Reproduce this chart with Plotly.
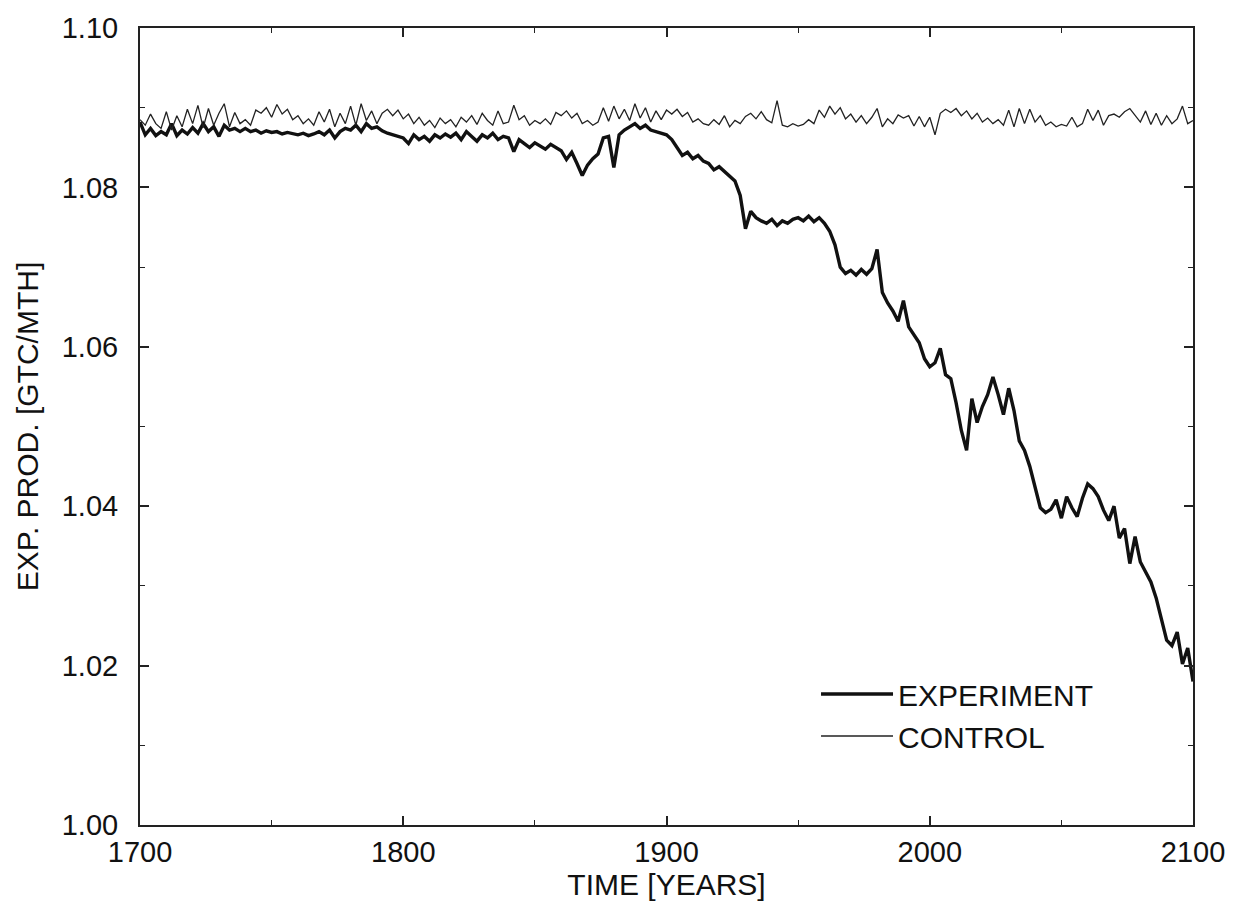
import plotly.graph_objects as go

years = list(range(1700, 2101, 2))

control = [
    1.0885, 1.0878, 1.0892, 1.0880, 1.0874, 1.0895, 1.0872, 1.0890, 1.0876, 1.0898,
    1.0880, 1.0903, 1.0875, 1.0899, 1.0878, 1.0893, 1.0905, 1.0876, 1.0894, 1.0880,
    1.0885, 1.0878, 1.0897, 1.0893, 1.0900, 1.0888, 1.0904, 1.0892, 1.0898, 1.0885,
    1.0890, 1.0880, 1.0886, 1.0878, 1.0895, 1.0882, 1.0898, 1.0876, 1.0893, 1.0880,
    1.0902, 1.0878, 1.0905, 1.0884, 1.0896, 1.0880, 1.0893, 1.0898, 1.0890, 1.0897,
    1.0886, 1.0892, 1.0880, 1.0888, 1.0878, 1.0884, 1.0875, 1.0887, 1.0880, 1.0885,
    1.0876, 1.0888, 1.0882, 1.0890, 1.0879, 1.0893, 1.0884, 1.0878, 1.0896, 1.0880,
    1.0882, 1.0903, 1.0885, 1.0890, 1.0878, 1.0884, 1.0880, 1.0886, 1.0879, 1.0894,
    1.0890, 1.0896, 1.0887, 1.0893, 1.0880, 1.0884, 1.0878, 1.0882, 1.0900, 1.0883,
    1.0902, 1.0886, 1.0898, 1.0884, 1.0905, 1.0887, 1.0900, 1.0882, 1.0896, 1.0885,
    1.0897, 1.0892, 1.0898, 1.0889, 1.0894, 1.0882, 1.0886, 1.0880, 1.0878, 1.0885,
    1.0879, 1.0890, 1.0876, 1.0884, 1.0880, 1.0889, 1.0893, 1.0886, 1.0895, 1.0885,
    1.0881, 1.0909, 1.0878, 1.0876, 1.0880, 1.0877, 1.0879, 1.0885, 1.0880, 1.0897,
    1.0888, 1.0902, 1.0892, 1.0900, 1.0886, 1.0892, 1.0882, 1.0890, 1.0880, 1.0888,
    1.0899, 1.0876, 1.0886, 1.0880, 1.0891, 1.0887, 1.0890, 1.0877, 1.0889, 1.0876,
    1.0888, 1.0866, 1.0893, 1.0898, 1.0894, 1.0899, 1.0890, 1.0896, 1.0886, 1.0893,
    1.0882, 1.0887, 1.0880, 1.0885, 1.0878, 1.0897, 1.0876, 1.0899, 1.0880, 1.0898,
    1.0882, 1.0890, 1.0878, 1.0882, 1.0876, 1.0879, 1.0877, 1.0888, 1.0876, 1.0880,
    1.0898, 1.0884, 1.0897, 1.0878, 1.0890, 1.0892, 1.0888, 1.0895, 1.0899, 1.0890,
    1.0882, 1.0896, 1.0879, 1.0893, 1.0878, 1.0890, 1.0880, 1.0886, 1.0902, 1.0880,
    1.0884,
]

experiment = [
    1.0882, 1.0866, 1.0874, 1.0865, 1.0870, 1.0866, 1.0880, 1.0865, 1.0872, 1.0867,
    1.0875, 1.0868, 1.0880, 1.0870, 1.0876, 1.0864, 1.0878, 1.0872, 1.0874, 1.0870,
    1.0874, 1.0870, 1.0872, 1.0868, 1.0871, 1.0869, 1.0870, 1.0867, 1.0869, 1.0868,
    1.0866, 1.0868, 1.0865, 1.0867, 1.0870, 1.0866, 1.0872, 1.0862, 1.0870, 1.0874,
    1.0872, 1.0878, 1.0870, 1.0880, 1.0874, 1.0876, 1.0871, 1.0868, 1.0866, 1.0863,
    1.0862, 1.0855, 1.0866, 1.0860, 1.0864, 1.0858, 1.0866, 1.0862, 1.0867, 1.0863,
    1.0868, 1.0860, 1.0870, 1.0864, 1.0858, 1.0866, 1.0862, 1.0868, 1.0860, 1.0864,
    1.0862, 1.0845, 1.0860, 1.0855, 1.0850, 1.0856, 1.0852, 1.0848, 1.0854, 1.0850,
    1.0846, 1.0835, 1.0844, 1.0830, 1.0815, 1.0828, 1.0836, 1.0842, 1.0862, 1.0864,
    1.0825, 1.0866, 1.0872, 1.0876, 1.0880, 1.0874, 1.0878, 1.0872, 1.0870, 1.0867,
    1.0866, 1.0860, 1.0850, 1.0840, 1.0844, 1.0836, 1.0840, 1.0833, 1.0830, 1.0822,
    1.0826, 1.0820, 1.0815, 1.0808, 1.0790, 1.0748, 1.0770, 1.0762, 1.0758, 1.0755,
    1.0760, 1.0752, 1.0758, 1.0755, 1.0760, 1.0762, 1.0758, 1.0764, 1.0757, 1.0762,
    1.0755, 1.0745, 1.0728, 1.0700, 1.0692, 1.0696, 1.0690, 1.0697, 1.0691, 1.0698,
    1.0722, 1.0668, 1.0655, 1.0645, 1.0632, 1.0658, 1.0625, 1.0615, 1.0605, 1.0585,
    1.0575, 1.0580, 1.0598, 1.0565, 1.0560, 1.0530, 1.0495, 1.0470, 1.0535, 1.0505,
    1.0525, 1.0540, 1.0562, 1.0540, 1.0515, 1.0548, 1.0520, 1.0482, 1.0470, 1.0450,
    1.0425, 1.0398, 1.0392, 1.0396, 1.0408, 1.0385, 1.0412, 1.0398, 1.0387, 1.0410,
    1.0428, 1.0422, 1.0412, 1.0395, 1.0382, 1.0400, 1.0360, 1.0372, 1.0328, 1.0362,
    1.0330, 1.0318, 1.0305, 1.0285, 1.0258, 1.0232, 1.0225, 1.0242, 1.0202, 1.0222,
    1.0180,
]

x_ticks = [1700, 1800, 1900, 2000, 2100]
y_ticks = [1.00, 1.02, 1.04, 1.06, 1.08, 1.10]
y_tick_labels = ["1.00", "1.02", "1.04", "1.06", "1.08", "1.10"]

font_family = "Liberation Sans, Arial, Helvetica, sans-serif"

fig = go.Figure()
fig.add_trace(go.Scatter(
    x=years, y=experiment, mode="lines", name="EXPERIMENT",
    line=dict(color="#111111", width=3.4),
))
fig.add_trace(go.Scatter(
    x=years, y=control, mode="lines", name="CONTROL",
    line=dict(color="#222222", width=1.3),
))

axis_common = dict(
    showline=True, linecolor="#222222", linewidth=2, mirror="ticks",
    ticks="inside", ticklen=9, tickwidth=1.5, tickcolor="#222222",
    showgrid=False, zeroline=False,
    tickfont=dict(family=font_family, size=29, color="#111111"),
)

fig.update_layout(
    width=1244, height=912,
    paper_bgcolor="white", plot_bgcolor="white",
    margin=dict(l=140, r=51, t=23, b=87),
    font=dict(family=font_family, color="#111111"),
    xaxis=dict(
        range=[1700, 2100], tickvals=x_ticks,
        minor=dict(ticks="inside", dtick=50, tick0=1700, ticklen=5, tickwidth=1.2, tickcolor="#222222"),
        title=dict(text="TIME [YEARS]", font=dict(family=font_family, size=30), standoff=4),
        ticklabelstandoff=0,
        **axis_common,
    ),
    yaxis=dict(
        range=[1.00, 1.10], tickvals=y_ticks, ticktext=y_tick_labels,
        minor=dict(ticks="inside", dtick=0.01, tick0=1.0, ticklen=5, tickwidth=1.2, tickcolor="#222222"),
        title=dict(text="EXP. PROD. [GTC/MTH]", font=dict(family=font_family, size=30), standoff=14),
        ticklabelstandoff=14,
        **axis_common,
    ),
    legend=dict(
        x=0.642, y=0.197, xanchor="left", yanchor="top",
        bgcolor="rgba(0,0,0,0)", borderwidth=0,
        font=dict(family=font_family, size=30, color="#111111"),
        itemwidth=72, tracegroupgap=2,
    ),
    showlegend=True,
)

fig.write_html("out.html")
